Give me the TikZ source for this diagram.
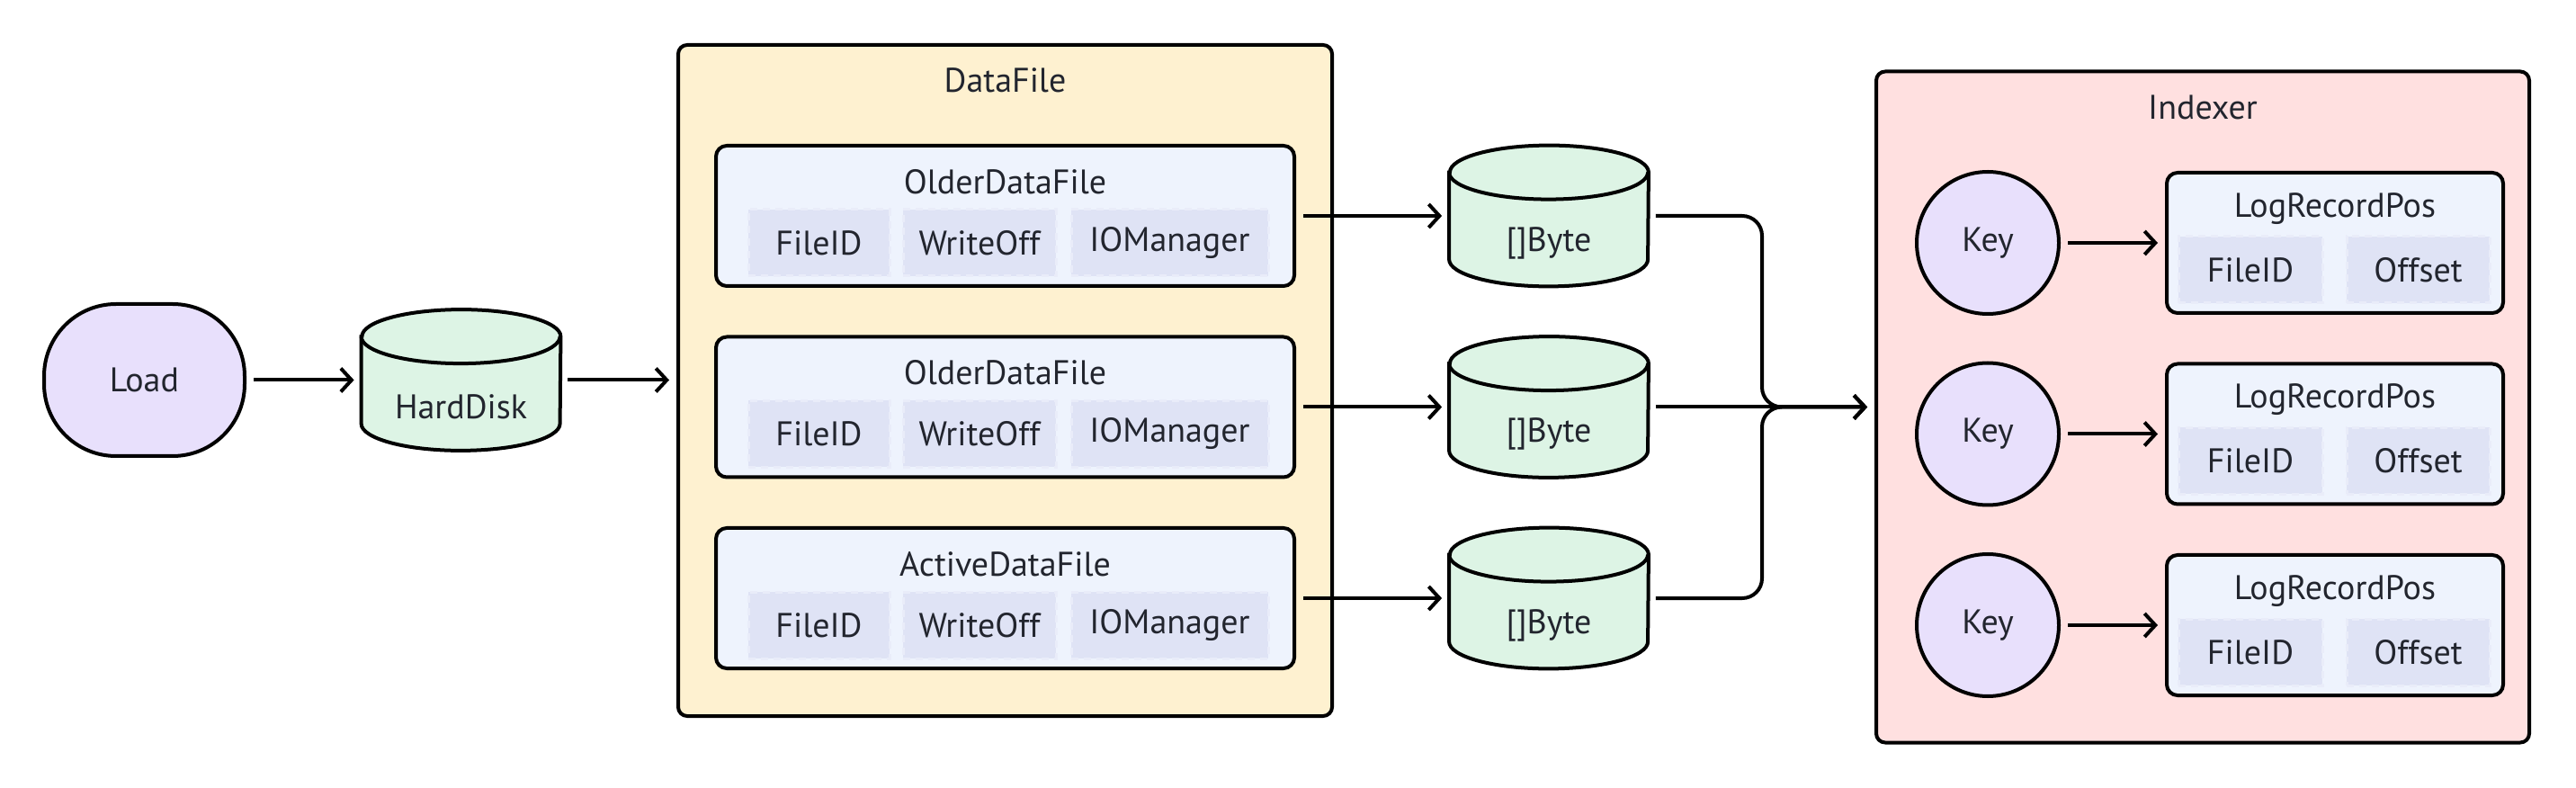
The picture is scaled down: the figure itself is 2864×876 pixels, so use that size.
\documentclass[tikz,border=0pt]{standalone}
\usepackage{fontspec}
\setmainfont{PT Sans}
\usetikzlibrary{arrows.meta,calc}
\definecolor{lav}{HTML}{E8E0FC}
\definecolor{cylc}{HTML}{DDF4E5}
\definecolor{cream}{HTML}{FEF1D0}
\definecolor{pinkc}{HTML}{FFE0E0}
\definecolor{innerc}{HTML}{EEF3FD}
\definecolor{subc}{HTML}{DFE3F5}
\definecolor{subdash}{HTML}{E9ECF9}
\definecolor{textc}{HTML}{22252E}
\tikzset{
  txt/.style={text=textc, font=\fontsize{19}{22}\selectfont},
  container/.style={draw=black, line width=2pt, rounded corners=5pt, inner sep=0pt},
  ibox/.style={draw=black, fill=innerc, line width=2pt, rounded corners=6pt, inner sep=0pt, minimum height=78pt},
  sbox/.style={draw=subdash, fill=subc, dashed, dash pattern=on 4pt off 3pt, line width=1.5pt, minimum height=37pt, inner sep=0pt, txt},
  arr/.style={line width=2pt, -{Straight Barb[length=6pt,width=13pt]}, shorten <=4pt, shorten >=4pt},
  keyc/.style={circle, draw=black, fill=lav, line width=2pt, minimum size=79pt, inner sep=0pt, txt},
}
\newcommand{\mycyl}[4]{%
  \node[minimum width=110.5pt, minimum height=78pt, inner sep=0pt] (#1) at (#2,#3) {};
  \path[fill=cylc, draw=black, line width=2pt]
    ($(#1.north west)+(0,30)$) -- ($(#1.south west)+(0,-30)$)
    arc[start angle=180, end angle=360, x radius=55.25pt, y radius=15pt]
    -- ($(#1.north east)+(0,30)$)
    arc[start angle=0, end angle=180, x radius=55.25pt, y radius=15pt] -- cycle;
  \draw[line width=2pt] ($(#1.north west)+(0,30)$)
    arc[start angle=180, end angle=360, x radius=55.25pt, y radius=15pt];
  \node[txt] (#1t) at ($(#1.center)+(0,30)$) {#4};
}
\newcommand{\dfbox}[3]{% name, cy, title
  \node[ibox, minimum width=321.5pt] (#1) at (1117.5,#2) {};
  \node[txt] (#1t) at ($(#1.center)+(0,-38)$) {#3};
  \node[sbox, minimum width=78.5pt] (#1a) at ($(#1.center)+(-207,30)$) {FileID};
  \node[sbox, minimum width=85pt] (#1b) at ($(#1.center)+(-28.5,30)$) {WriteOff};
  \node[sbox, minimum width=109.5pt] (#1c) at ($(#1.center)+(183,30)$) {IOManager};
}
\newcommand{\lrpbox}[2]{% name, cy
  \node[ibox, minimum width=187pt] (#1) at (2596,#2) {};
  \node[txt] (#1t) at ($(#1.center)+(0,-38)$) {LogRecordPos};
  \node[sbox, minimum width=80pt] (#1a) at ($(#1.center)+(-94,30)$) {FileID};
  \node[sbox, minimum width=79.5pt] (#1b) at ($(#1.center)+(92.5,30)$) {Offset};
}
\begin{document}
\begin{tikzpicture}[x=0.5pt,y=-0.5pt]
\useasboundingbox (0,0) rectangle (2864,876);
% left
\node[draw=black, fill=lav, line width=2pt, rounded corners=40pt, minimum width=111.5pt, minimum height=84.5pt, inner sep=0pt, txt] (load) at (160.5,422.5) {Load};
\mycyl{hd}{512.5}{422.5}{HardDisk}
% DataFile
\node[container, fill=cream, minimum width=363.5pt, minimum height=373pt] (df) at (1117.5,423) {};
\node[txt] (dft) at (1117.5,89) {DataFile};
\dfbox{f1}{240}{OlderDataFile}
\dfbox{f2}{452.5}{OlderDataFile}
\dfbox{f3}{665}{ActiveDataFile}
% byte cylinders
\mycyl{c1}{1722}{240}{[]Byte}
\mycyl{c2}{1722}{452.5}{[]Byte}
\mycyl{c3}{1722}{665}{[]Byte}
% Indexer
\node[container, fill=pinkc, minimum width=363pt, minimum height=373pt] (idx) at (2449,452.5) {};
\node[txt] (idxt) at (2449,119) {Indexer};
\node[keyc] (k1) at (2210,270) {Key};
\node[keyc] (k2) at (2210,482.5) {Key};
\node[keyc] (k3) at (2210,695) {Key};
\lrpbox{l1}{270}
\lrpbox{l2}{482.5}
\lrpbox{l3}{695}
% connectors
\draw[arr] (load) -- (hd);
\draw[arr] (hd.east) -- (hd.east -| df.west);
\draw[arr] (f1.east) -- (c1.west);
\draw[arr] (f2.east) -- (c2.west);
\draw[arr] (f3.east) -- (c3.west);
\coordinate (m) at (1959,452.5);
\draw[arr, rounded corners=11pt] (c1.east) -| (m) -- (idx.west);
\draw[arr, rounded corners=11pt] (c3.east) -| (m) -- (idx.west);
\draw[arr] (c2.east) -- (idx.west);
\draw[arr] (k1) -- (l1);
\draw[arr] (k2) -- (l2);
\draw[arr] (k3) -- (l3);
\end{tikzpicture}
\end{document}
